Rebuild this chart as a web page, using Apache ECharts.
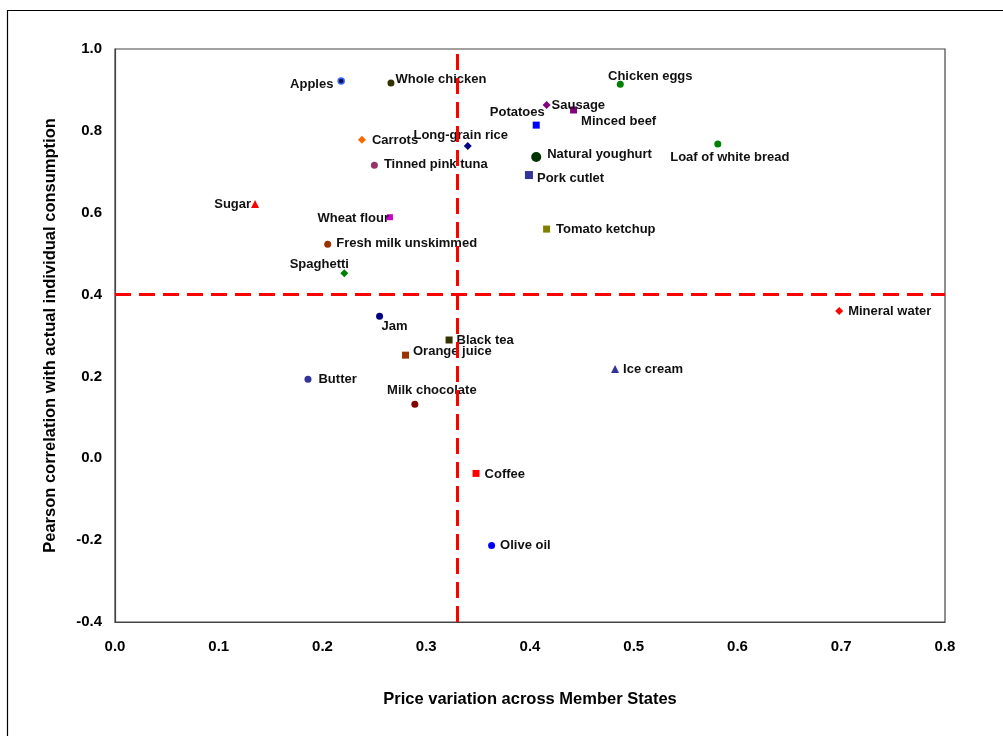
<!DOCTYPE html>
<html>
<head>
<meta charset="utf-8">
<script src="https://cdn.jsdelivr.net/npm/echarts@6/dist/echarts.min.js"></script>
<style>html,body{margin:0;padding:0;background:#fff;}#c{width:1003px;height:736px;}</style>
</head>
<body>
<div id="c"></div>
<script>
// ---- data ----
const products = ["Apples","Whole chicken","Carrots","Long-grain rice","Tinned pink tuna","Sugar","Wheat flour","Fresh milk unskimmed","Spaghetti","Chicken eggs","Sausage","Minced beef","Potatoes","Loaf of white bread","Natural youghurt","Pork cutlet","Tomato ketchup","Jam","Black tea","Orange juice","Butter","Milk chocolate","Ice cream","Coffee","Olive oil","Mineral water"];
const priceVariation = [0.218,0.266,0.238,0.340,0.250,0.135,0.265,0.205,0.221,0.487,0.416,0.442,0.406,0.581,0.406,0.399,0.416,0.255,0.322,0.280,0.186,0.289,0.482,0.348,0.363,0.698];
const pearson = [0.922,0.917,0.778,0.763,0.716,0.621,0.589,0.523,0.452,0.914,0.863,0.851,0.814,0.768,0.736,0.692,0.560,0.347,0.289,0.252,0.193,0.132,0.218,-0.037,-0.213,0.360];
const xThreshold = 0.33;
const yThreshold = 0.4;

// ---- styles (separate from data) ----
const markerStyle = {
  "Apples":["circle",6,"#101050","#3366ff"],
  "Whole chicken":["circle",7,"#333300"],
  "Carrots":["diamond",8,"#ff6600"],
  "Long-grain rice":["diamond",8,"#000080"],
  "Tinned pink tuna":["circle",7,"#993366"],
  "Sugar":["triangle",8,"#ff0000"],
  "Wheat flour":["rect",6,"#cc00cc"],
  "Fresh milk unskimmed":["circle",7,"#993300"],
  "Spaghetti":["diamond",8,"#008000"],
  "Chicken eggs":["circle",7,"#008000"],
  "Sausage":["diamond",8,"#800080"],
  "Minced beef":["rect",7,"#800080"],
  "Potatoes":["rect",7,"#0000ff"],
  "Loaf of white bread":["circle",7,"#008000"],
  "Natural youghurt":["circle",10,"#003300"],
  "Pork cutlet":["rect",8,"#333399"],
  "Tomato ketchup":["rect",7,"#808000"],
  "Jam":["circle",7,"#000080"],
  "Black tea":["rect",7,"#333300"],
  "Orange juice":["rect",7,"#993300"],
  "Butter":["circle",7,"#333399"],
  "Milk chocolate":["circle",7,"#800000"],
  "Ice cream":["triangle",8,"#333399"],
  "Coffee":["rect",7,"#ff0000"],
  "Olive oil":["circle",7,"#0000ff"],
  "Mineral water":["diamond",8,"#ff0000"]
};
const labelStyle = {
  "Apples":["left",[0,3]],
  "Whole chicken":["right",[-3,-4]],
  "Carrots":["right",[2,1]],
  "Long-grain rice":["top",[-7,4]],
  "Tinned pink tuna":["right",[2,-1]],
  "Sugar":["left",[4,0]],
  "Wheat flour":["left",[6,1]],
  "Fresh milk unskimmed":["right",[1,-1]],
  "Spaghetti":["top",[-25,6]],
  "Chicken eggs":["top",[30,6]],
  "Sausage":["right",[-3,0]],
  "Minced beef":["right",[0,11]],
  "Potatoes":["top",[-19,1]],
  "Loaf of white bread":["bottom",[12,-1]],
  "Natural youghurt":["right",[2,-3]],
  "Pork cutlet":["right",[0,3]],
  "Tomato ketchup":["right",[2,0]],
  "Jam":["bottom",[15,-4]],
  "Black tea":["right",[0,0]],
  "Orange juice":["right",[0,-4]],
  "Butter":["right",[3,0]],
  "Milk chocolate":["top",[17,0]],
  "Ice cream":["right",[0,0]],
  "Coffee":["right",[1,1]],
  "Olive oil":["right",[1,0]],
  "Mineral water":["right",[1,0]]
};

const points = products.map((n,i) => {
  const m = markerStyle[n], l = labelStyle[n];
  return {
    name: n,
    value: [priceVariation[i], pearson[i]],
    symbol: m[0],
    symbolSize: m[1],
    itemStyle: {color: m[2], opacity: 1, borderColor: m[3] || m[2], borderWidth: m[3] ? 1.5 : 0},
    label: {show: true, position: l[0], offset: l[1], distance: 4}
  };
});

const FONT = "Liberation Sans, Arial, sans-serif";
const chart = echarts.init(document.getElementById('c'), null, {renderer:'canvas'});
chart.setOption({
  backgroundColor: '#fff',
  animation: false,
  graphic: [{
    type: 'rect', silent: true, z: -1,
    shape: {x: 7.5, y: 10.5, width: 1200, height: 1000},
    style: {fill: 'none', stroke: '#000', lineWidth: 1.2}
  }],
  grid: {left: 115, top: 49, width: 830, height: 573, show: true, borderColor: '#444', borderWidth: 1.2, backgroundColor: '#fff'},
  xAxis: {
    type: 'value', min: 0, max: 0.8, interval: 0.1,
    name: 'Price variation across Member States',
    nameLocation: 'middle', nameGap: 69,
    nameTextStyle: {fontFamily: FONT, fontWeight: 'bold', fontSize: 16.5, color: '#000'},
    axisLine: {show: true, onZero: false, lineStyle: {color: '#444', width: 1.2}},
    axisTick: {show: false},
    splitLine: {show: false},
    axisLabel: {margin: 17, fontFamily: FONT, fontWeight: 'bold', fontSize: 15, color: '#000', formatter: v => v.toFixed(1)}
  },
  yAxis: {
    type: 'value', min: -0.4, max: 1.0, interval: 0.2,
    name: 'Pearson correlation with actual individual consumption',
    nameLocation: 'middle', nameGap: 56,
    nameTextStyle: {fontFamily: FONT, fontWeight: 'bold', fontSize: 16.5, color: '#000'},
    axisLine: {show: true, onZero: false, lineStyle: {color: '#444', width: 1.2}},
    axisTick: {show: false},
    splitLine: {show: false},
    axisLabel: {margin: 13, fontFamily: FONT, fontWeight: 'bold', fontSize: 15, color: '#000', formatter: v => v.toFixed(1)}
  },
  series: [{
    type: 'scatter',
    data: points,
    label: {fontFamily: FONT, fontWeight: 'bold', fontSize: 13, color: '#111', formatter: p => p.name},
    markLine: {
      silent: true, symbol: 'none', animation: false,
      label: {show: false},
      lineStyle: {color: '#ff0000', width: 3, type: [16, 8]},
      data: [{xAxis: xThreshold}, {yAxis: yThreshold}]
    },
    z: 3
  }]
});
</script>
</body>
</html>
